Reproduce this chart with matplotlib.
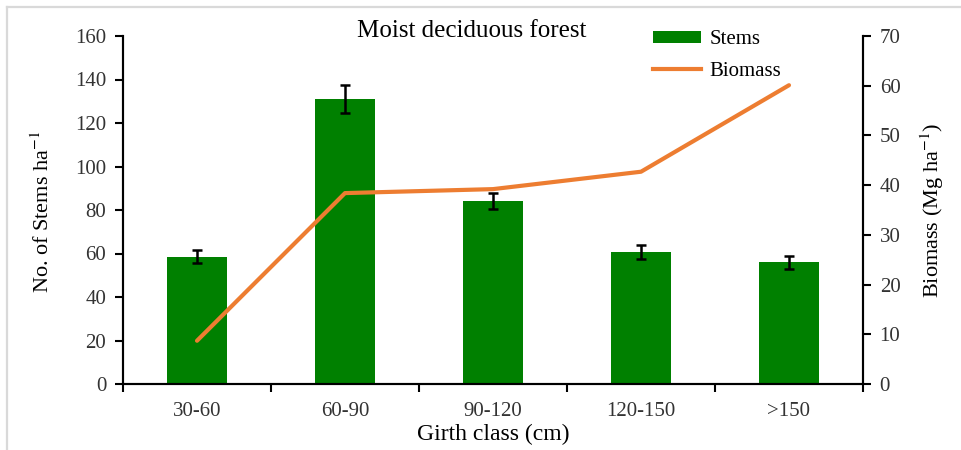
import numpy as np
import matplotlib
matplotlib.use("Agg")
import matplotlib.pyplot as plt
from matplotlib.lines import Line2D

plt.rcParams['font.family'] = ['Liberation Serif', 'DejaVu Serif']
plt.rcParams['mathtext.fontset'] = 'stix'

# data
classes = ['30-60', '60-90', '90-120', '120-150', '>150']
stems = [58.5, 131.2, 84.2, 60.6, 56.0]
stems_err = [3.0, 6.5, 3.8, 3.3, 3.0]
biomass = [8.7, 38.4, 39.2, 42.7, 60.1]

green = '#008000'
orange = '#ED7D31'

fig = plt.figure(figsize=(9.61, 4.5), dpi=100)
ax = fig.add_axes([123 / 961, 66 / 450, 740 / 961, 348 / 450])
ax2 = ax.twinx()

x = np.arange(len(classes))
bars = ax.bar(x, stems, width=0.4, color=green, zorder=2)
ax.errorbar(x, stems, yerr=stems_err, fmt='none', ecolor='black',
            elinewidth=1.8, capsize=3.6, capthick=1.8, zorder=3)
line, = ax2.plot(x, biomass, color=orange, lw=3, solid_capstyle='round', zorder=4)
ax2.set_zorder(ax.get_zorder() + 1)
ax2.patch.set_visible(False)

ax.set_xlim(-0.5, len(classes) - 0.5)
ax.set_ylim(0, 160)
ax.set_yticks(np.arange(0, 161, 20))
ax2.set_ylim(0, 70)
ax2.set_yticks(np.arange(0, 71, 10))

ax.set_xticks(x)
ax.set_xticklabels(classes)
ax.set_xticks(np.arange(-0.5, len(classes), 1), minor=True)
ax.tick_params(axis='x', which='major', length=0, pad=13, labelsize=15, labelcolor='#333333')
ax.tick_params(axis='x', which='minor', length=6, width=1.5, direction='out')
ax.tick_params(axis='y', length=6, width=1.5, direction='out', labelsize=15,
               labelcolor='#333333', pad=6)
ax2.tick_params(axis='y', length=6, width=1.5, direction='out', labelsize=15,
                labelcolor='#333333', pad=6)

for a in (ax, ax2):
    a.spines['top'].set_visible(False)
    for s in ('left', 'right', 'bottom'):
        a.spines[s].set_linewidth(1.5)

ax.set_xlabel('Girth class (cm)', fontsize=17, labelpad=2)
fig.text(43 / 961, 1 - 212 / 450, 'No. of Stems ha$^{-1}$', rotation=90,
         ha='center', va='center', fontsize=16)
fig.text(932 / 961, 1 - 210 / 450, 'Biomass (Mg ha$^{-1}$)', rotation=90,
         ha='center', va='center', fontsize=16)
fig.text(472 / 961, 1 - 31 / 450, 'Moist deciduous forest', ha='center',
         va='center', fontsize=18)

handles = [bars, Line2D([], [], color=orange, lw=3)]
ax.legend(handles, ['Stems', 'Biomass'], loc='upper left', frameon=False,
          bbox_to_anchor=(645 / 961, 1 - 22 / 450), bbox_transform=fig.transFigure,
          fontsize=15, handlelength=2.3, handleheight=0.45, labelspacing=0.6,
          handletextpad=0.4, borderaxespad=0)

# light frame seen at the top and left edges of the image
fig.add_artist(Line2D([7 / 961, 1], [1 - 7 / 450, 1 - 7 / 450], color='#d9d9d9', lw=1.6))
fig.add_artist(Line2D([7 / 961, 7 / 961], [0, 1 - 7 / 450], color='#d9d9d9', lw=1.6))

fig.savefig('out.png', dpi=100)
